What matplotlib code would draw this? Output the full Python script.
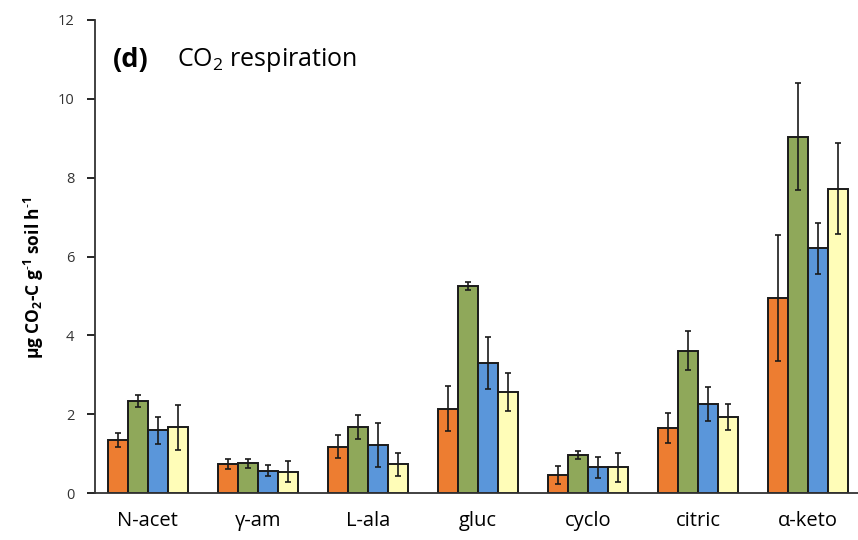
import numpy as np
import matplotlib.pyplot as plt

plt.rcParams['font.family'] = ['Open Sans', 'DejaVu Sans']
plt.rcParams['mathtext.fontset'] = 'custom'
plt.rcParams['mathtext.rm'] = 'Open Sans'
plt.rcParams['mathtext.bf'] = 'Open Sans:bold'

# substrates and the four treatments (means and error bars)
substrates = ["N-acet", "γ-am", "L-ala", "gluc", "cyclo", "citric", "α-keto"]
orange = [1.35, 0.74, 1.18, 2.14, 0.46, 1.65, 4.94]
green = [2.34, 0.75, 1.67, 5.25, 0.96, 3.61, 9.04]
blue = [1.59, 0.56, 1.22, 3.30, 0.65, 2.26, 6.21]
yellow = [1.67, 0.54, 0.73, 2.56, 0.65, 1.94, 7.72]
orange_err = [0.17, 0.12, 0.30, 0.57, 0.23, 0.37, 1.60]
green_err = [0.15, 0.11, 0.31, 0.10, 0.10, 0.50, 1.35]
blue_err = [0.35, 0.14, 0.56, 0.67, 0.26, 0.43, 0.65]
yellow_err = [0.57, 0.27, 0.29, 0.48, 0.37, 0.33, 1.15]

series = [orange, green, blue, yellow]
errors = [orange_err, green_err, blue_err, yellow_err]
colors = ["#ED7D31", "#8FA85A", "#5A96DA", "#FFFDB8"]

fig = plt.figure(figsize=(8.58, 5.40), dpi=100)
ax = fig.add_axes([0.1107, 0.087, 0.889, 0.876])

x = np.arange(len(substrates))
w = 0.182
for i, (vals, err, c) in enumerate(zip(series, errors, colors)):
    pos = x + (i - 1.5) * w
    ax.bar(pos, vals, width=w, color=c, edgecolor="#1a1a1a", linewidth=1.4, zorder=2)
    ax.errorbar(pos, vals, yerr=err, fmt="none", ecolor="#1a1a1a",
                elinewidth=1.2, capsize=2.5, capthick=1.2, zorder=3)

ax.set_xlim(-0.48, 6.45)
ax.set_ylim(0, 12)
ax.set_yticks(np.arange(0, 13, 2))
ax.set_xticks(x)
ax.set_xticklabels(substrates, fontsize=14.5)
ax.tick_params(axis="x", length=0, pad=13)
ax.tick_params(axis="y", direction="out", length=6, width=1.2, labelsize=10.5,
               labelcolor="#333333", pad=9)
for s in ["top", "right"]:
    ax.spines[s].set_visible(False)
for s in ["left", "bottom"]:
    ax.spines[s].set_linewidth(1.3)
    ax.spines[s].set_color("#333333")

ax.set_ylabel(r"µg CO$_\mathbf{2}$-C g$^\mathbf{\text{-}1}$ soil h$^\mathbf{\text{-}1}$",
              fontsize=12.5, fontweight="bold")
ax.yaxis.set_label_coords(-0.064, 0.455)

ax.text(0.024, 0.915, "(d)", transform=ax.transAxes, fontsize=19.5, fontweight="bold",
        va="center")
ax.text(0.108, 0.915, r"CO$_2$ respiration", transform=ax.transAxes, fontsize=18,
        va="center")

fig.savefig("out.png", dpi=100)
